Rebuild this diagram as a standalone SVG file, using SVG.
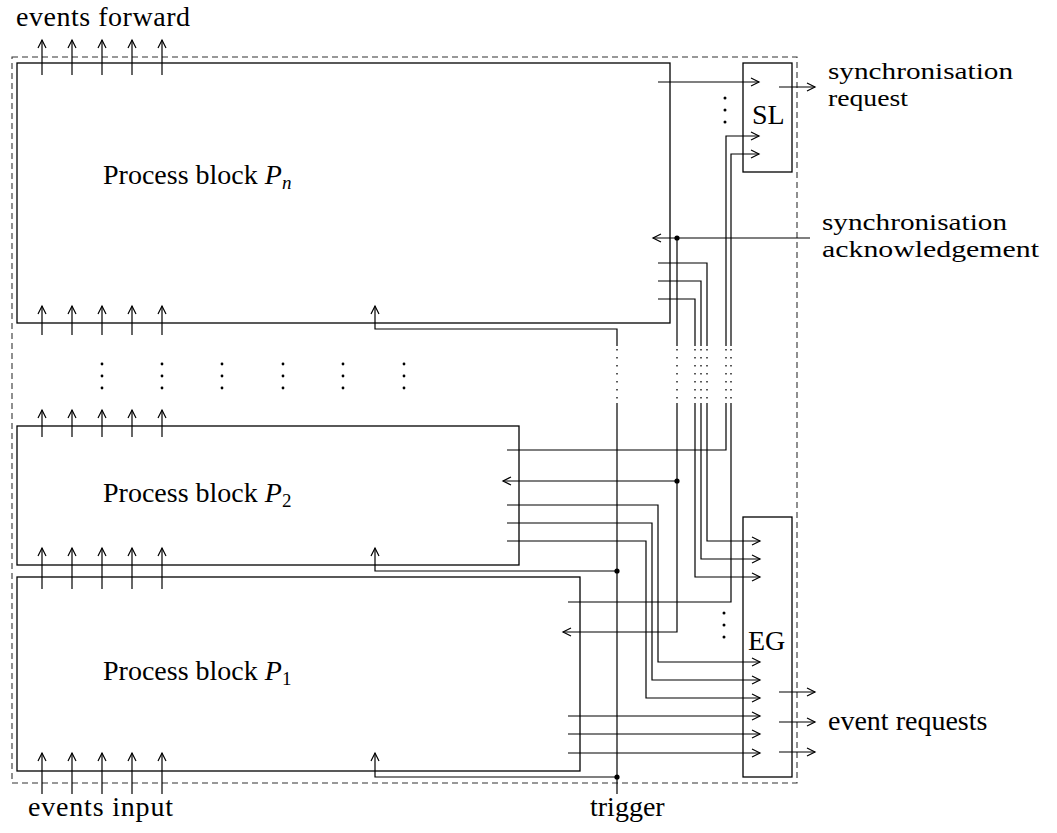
<svg xmlns="http://www.w3.org/2000/svg" width="1057" height="833" viewBox="0 0 1057 833">
<style>
.ln{fill:none;stroke:#000;stroke-width:1.2}
.dt{fill:none;stroke:#000;stroke-width:1.3;stroke-dasharray:1.5 6.5}
.bx{fill:none;stroke:#000;stroke-width:1.3}
.ds{fill:none;stroke:#333;stroke-width:1.1;stroke-dasharray:6 4}
text{font-family:'Liberation Serif','Times New Roman','DejaVu Serif',serif;font-size:28px;fill:#000}
.sm{font-size:24px}
.a{marker-end:url(#ar)}
</style>
<defs>
<marker id="ar" markerUnits="userSpaceOnUse" markerWidth="12" markerHeight="12" viewBox="-10 -6 12 12" refX="0" refY="0" orient="auto">
<path d="M-8,-4 L0,0 L-8,4" fill="none" stroke="#000" stroke-width="1.2"/>
</marker>
</defs>
<rect class="ds" x="12" y="57" width="785" height="726"/>
<g id="Pn"><rect class="bx" x="17" y="63" width="653" height="260"/>
<text x="103" y="184" font-family="Liberation Serif, serif">Process block <tspan font-style="italic">P</tspan><tspan font-style="italic" font-size="19" dy="5">n</tspan></text></g>
<g id="P2"><rect class="bx" x="17" y="426" width="502" height="139"/>
<text x="103" y="502" font-family="Liberation Serif, serif">Process block <tspan font-style="italic">P</tspan><tspan font-size="19" dy="5">2</tspan></text></g>
<g id="P1"><rect class="bx" x="17" y="577" width="563" height="194"/>
<text x="103" y="680" font-family="Liberation Serif, serif">Process block <tspan font-style="italic">P</tspan><tspan font-size="19" dy="5">1</tspan></text></g>
<g id="SL"><rect class="bx" x="743" y="63" width="49" height="109"/>
<text x="752" y="124" font-family="Liberation Serif, serif">SL</text></g>
<g id="EG"><rect class="bx" x="743" y="517" width="49" height="260"/>
<text x="748" y="650" font-family="Liberation Serif, serif">EG</text></g>
<g id="labels" font-family="Liberation Serif, serif">
<text x="16" y="26" textLength="174" lengthAdjust="spacing">events forward</text>
<text x="28" y="816" textLength="145" lengthAdjust="spacing">events input</text>
<text x="590" y="816">trigger</text>
<text class="sm" x="828" y="79" textLength="185" lengthAdjust="spacingAndGlyphs">synchronisation</text>
<text class="sm" x="828" y="106" textLength="80" lengthAdjust="spacingAndGlyphs">request</text>
<text class="sm" x="822" y="230" textLength="185" lengthAdjust="spacingAndGlyphs">synchronisation</text>
<text class="sm" x="822" y="257" textLength="217" lengthAdjust="spacingAndGlyphs">acknowledgement</text>
<text x="828" y="730">event requests</text>
</g>
<g id="connectors">
<path class="ln a" d="M42,75V40"/><path class="ln a" d="M72,75V40"/><path class="ln a" d="M102,75V40"/><path class="ln a" d="M132,75V40"/><path class="ln a" d="M162,75V40"/>
<path class="ln a" d="M42,335V306"/><path class="ln a" d="M72,335V306"/><path class="ln a" d="M102,335V306"/><path class="ln a" d="M132,335V306"/><path class="ln a" d="M162,335V306"/>
<path class="ln a" d="M42,437V410"/><path class="ln a" d="M72,437V410"/><path class="ln a" d="M102,437V410"/><path class="ln a" d="M132,437V410"/><path class="ln a" d="M162,437V410"/>
<path class="ln a" d="M42,589V548"/><path class="ln a" d="M72,589V548"/><path class="ln a" d="M102,589V548"/><path class="ln a" d="M132,589V548"/><path class="ln a" d="M162,589V548"/>
<path class="ln a" d="M42,794V753"/><path class="ln a" d="M72,794V753"/><path class="ln a" d="M102,794V753"/><path class="ln a" d="M132,794V753"/><path class="ln a" d="M162,794V753"/>
<path class="ln a" d="M617,346V329H375V306"/>
<path class="ln" d="M617,403V794"/>
<path class="ln a" d="M617,571H375V548"/>
<path class="ln a" d="M617,777H375V753"/>
<path class="ln a" d="M810,238H653"/>
<path class="ln" d="M677,238V346"/>
<path class="ln a" d="M677,403V481H503"/>
<path class="ln a" d="M677,481V632H563"/>
<path class="ln a" d="M658,82H759"/>
<path class="ln a" d="M779,87H815"/>
<path class="ln" d="M507,450H726V403"/>
<path class="ln a" d="M726,346V136H759"/>
<path class="ln" d="M568,602H731V403"/>
<path class="ln a" d="M731,346V154H759"/>
<path class="ln" d="M658,263H707V346"/>
<path class="ln" d="M658,281H701V346"/>
<path class="ln" d="M658,299H695V346"/>
<path class="ln a" d="M707,403V541H760"/>
<path class="ln a" d="M701,403V559H760"/>
<path class="ln a" d="M695,403V577H760"/>
<path class="ln a" d="M507,505H658V662H760"/>
<path class="ln a" d="M507,523H652V680H760"/>
<path class="ln a" d="M507,541H646V698H760"/>
<path class="ln a" d="M568,716H760"/>
<path class="ln a" d="M568,734H760"/>
<path class="ln a" d="M568,753H760"/>
<path class="ln a" d="M779,692H815"/>
<path class="ln a" d="M779,722H815"/>
<path class="ln a" d="M779,752H815"/>
<path class="dt" d="M617,349V402M677,349V402M695,349V402M701,349V402M707,349V402M726,349V402M731,349V402"/>
<circle cx="677" cy="238" r="2.6"/>
<circle cx="677" cy="481" r="2.6"/>
<circle cx="617" cy="571" r="2.6"/>
<circle cx="617" cy="777" r="2.6"/>
</g>
<g id="ellipses" fill="#000">
<circle cx="725" cy="98" r="1.5"/><circle cx="725" cy="110" r="1.5"/><circle cx="725" cy="122" r="1.5"/>
<circle cx="724" cy="613" r="1.5"/><circle cx="724" cy="625" r="1.5"/><circle cx="724" cy="637" r="1.5"/>
<circle cx="102" cy="364" r="1.4"/><circle cx="102" cy="376" r="1.4"/><circle cx="102" cy="388" r="1.4"/>
<circle cx="162" cy="364" r="1.4"/><circle cx="162" cy="376" r="1.4"/><circle cx="162" cy="388" r="1.4"/>
<circle cx="222" cy="364" r="1.4"/><circle cx="222" cy="376" r="1.4"/><circle cx="222" cy="388" r="1.4"/>
<circle cx="283" cy="364" r="1.4"/><circle cx="283" cy="376" r="1.4"/><circle cx="283" cy="388" r="1.4"/>
<circle cx="343" cy="364" r="1.4"/><circle cx="343" cy="376" r="1.4"/><circle cx="343" cy="388" r="1.4"/>
<circle cx="404" cy="364" r="1.4"/><circle cx="404" cy="376" r="1.4"/><circle cx="404" cy="388" r="1.4"/>
</g>
</svg>
